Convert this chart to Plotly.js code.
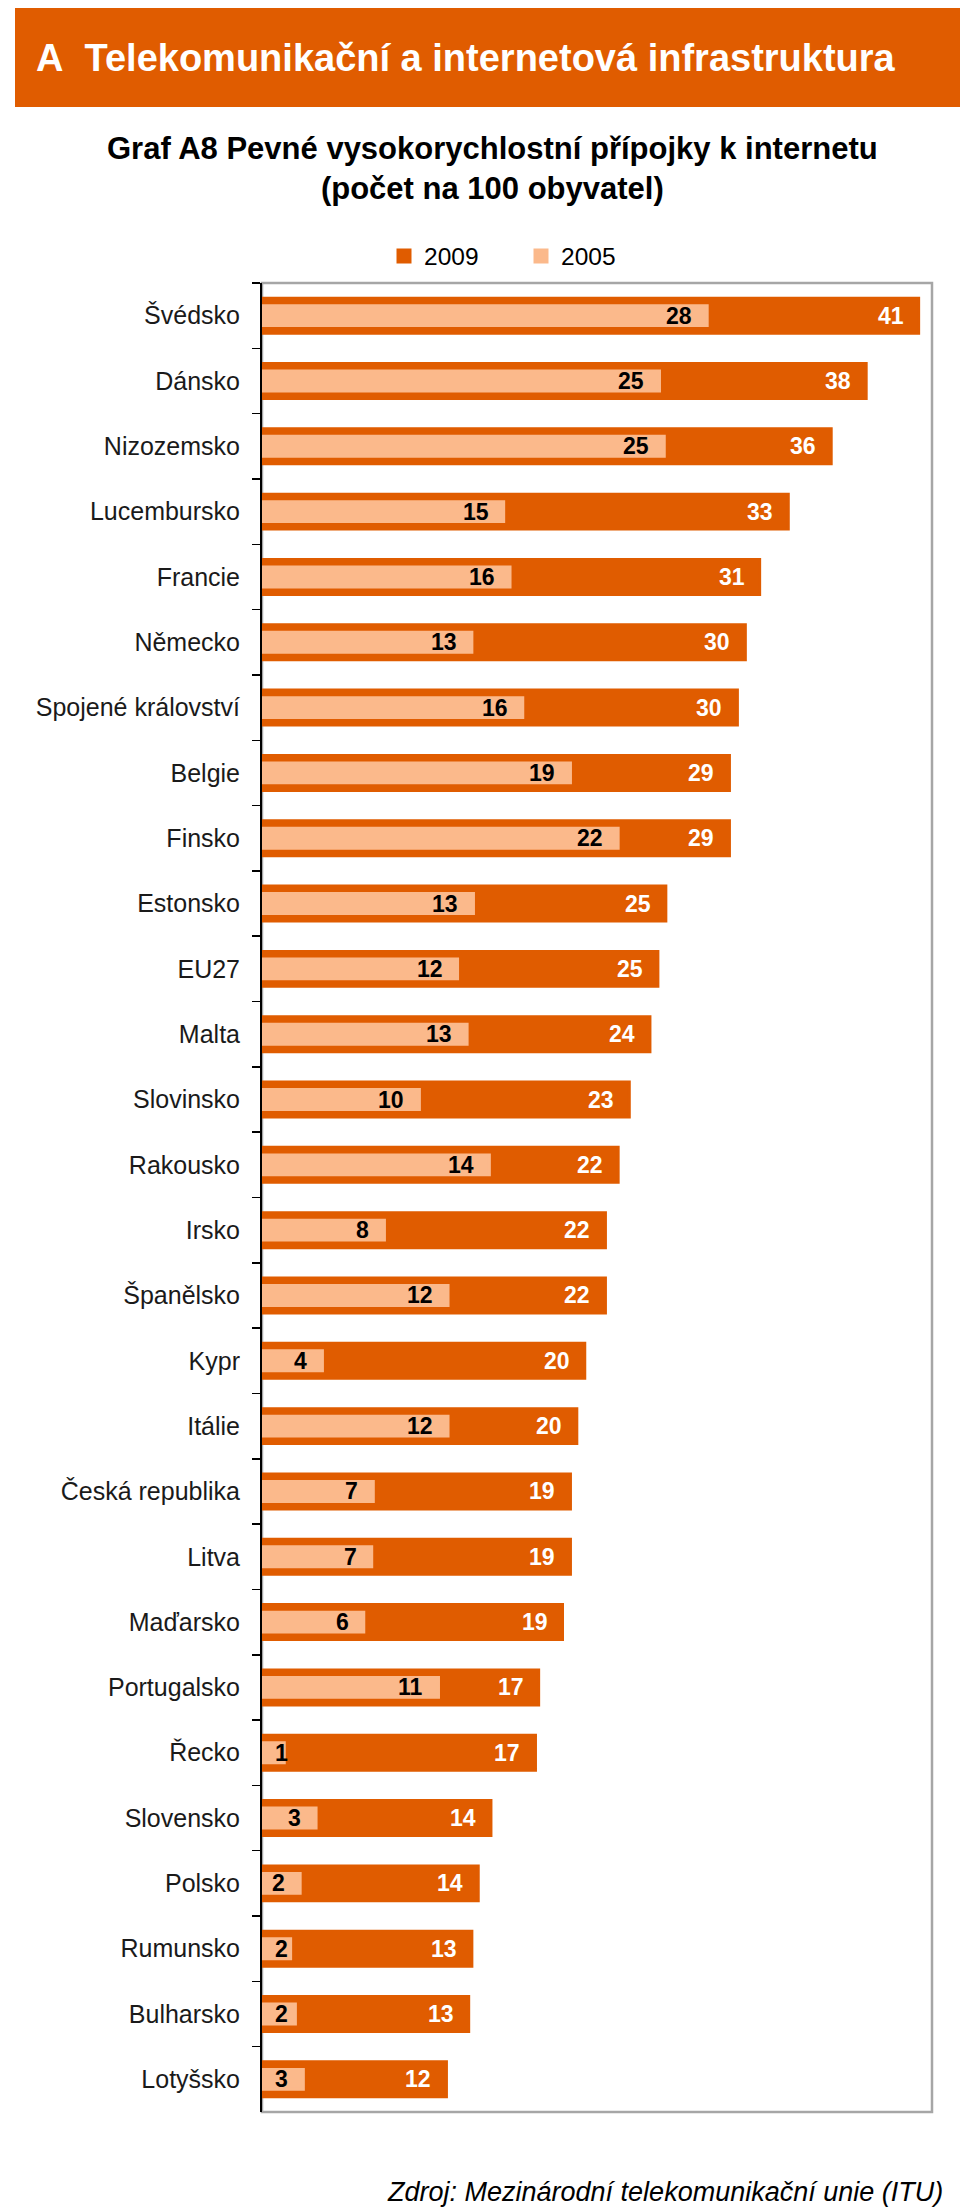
<!DOCTYPE html>
<html>
<head>
<meta charset="utf-8">
<script src="https://cdn.plot.ly/plotly-3.0.1.min.js"></script>
<style>
  html, body { margin: 0; padding: 0; background: #fff; }
  #graf { width: 960px; height: 2212px; }
</style>
</head>
<body>
<div id="graf"></div>
<script>
// země odshora dolů
const zeme = ['Švédsko', 'Dánsko', 'Nizozemsko', 'Lucembursko', 'Francie', 'Německo',
  'Spojené království', 'Belgie', 'Finsko', 'Estonsko', 'EU27', 'Malta', 'Slovinsko',
  'Rakousko', 'Irsko', 'Španělsko', 'Kypr', 'Itálie', 'Česká republika', 'Litva',
  'Maďarsko', 'Portugalsko', 'Řecko', 'Slovensko', 'Polsko', 'Rumunsko', 'Bulharsko', 'Lotyšsko'];

// počet přípojek na 100 obyvatel
const rok2009 = [41.3, 38.0, 35.8, 33.1, 31.3, 30.4, 29.9, 29.4, 29.4, 25.4, 24.9, 24.4, 23.1,
  22.4, 21.6, 21.6, 20.3, 19.8, 19.4, 19.4, 18.9, 17.4, 17.2, 14.4, 13.6, 13.2, 13.0, 11.6];
const rok2005 = [28.0, 25.0, 25.3, 15.2, 15.6, 13.2, 16.4, 19.4, 22.4, 13.3, 12.3, 12.9, 9.9,
  14.3, 7.7, 11.7, 3.8, 11.7, 7.0, 6.9, 6.4, 11.1, 1.4, 3.4, 2.4, 1.8, 2.1, 2.6];

const nazvyRad = ['2009', '2005'];

// rozměry stránky a plochy grafu (px)
const W = 960, H = 2212;
const M = { l: 262, r: 28, t: 283, b: 100 };
const plotW = W - M.l - M.r;
const plotH = H - M.t - M.b;
const xMax = 42.14;

// převody px -> paper
const px2x = px => (px - M.l) / plotW;
const py2y = py => (H - M.b - py) / plotH;

const oranzova = '#e05c00';
const svetla = '#fbb98b';
const pismo = 'Liberation Sans, Arial, sans-serif';
const velikostPopisku = 23;
const okraj = 3; // obrys sloupce, zvětší i značku v legendě

// popisky hodnot (uvnitř na konci sloupce)
function popisky(hodnoty, barva) {
    const k = plotW / xMax;
    return hodnoty.map((v, i) => {
        const txt = String(Math.round(v));
        const sirka = txt.length * 0.556 * velikostPopisku;
        const vlevo = v * k - 13 - sirka < 11;
        return {
            x: vlevo ? 0 : v,
            y: zeme[i],
            xref: 'x', yref: 'y',
            text: txt,
            showarrow: false,
            xanchor: vlevo ? 'left' : 'right',
            xshift: vlevo ? 11 : -13,
            yanchor: 'middle',
            font: { family: pismo, size: velikostPopisku, color: barva, weight: 'bold' }
        };
    });
}

var trace2009 = {
    type: 'bar',
    orientation: 'h',
    name: nazvyRad[0],
    y: zeme,
    x: rok2009,
    width: 0.535,
    marker: { color: oranzova, line: { color: oranzova, width: okraj } },
    hoverinfo: 'skip'
};

var trace2005 = {
    type: 'bar',
    orientation: 'h',
    name: nazvyRad[1],
    y: zeme,
    x: rok2005,
    width: 0.305,
    marker: { color: svetla, line: { color: svetla, width: okraj } },
    hoverinfo: 'skip'
};

var anotace = []
    .concat(popisky(rok2009, '#ffffff'))
    .concat(popisky(rok2005, '#000000'));

// nadpis v oranžovém pruhu
anotace.push({
    xref: 'paper', yref: 'paper',
    x: px2x(34), y: py2y(58),
    xanchor: 'left', yanchor: 'middle',
    text: 'A\u00a0\u00a0Telekomunikační a internetová infrastruktura',
    showarrow: false,
    font: { family: pismo, size: 38, color: '#ffffff', weight: 'bold' }
});

// titulek grafu
anotace.push({
    xref: 'paper', yref: 'paper',
    x: px2x(492), y: py2y(168),
    xanchor: 'center', yanchor: 'middle',
    text: 'Graf A8 Pevné vysokorychlostní přípojky k internetu<br>(počet na 100 obyvatel)',
    showarrow: false,
    font: { family: pismo, size: 31, color: '#000000', weight: 'bold' }
});

// zdroj
anotace.push({
    xref: 'paper', yref: 'paper',
    x: px2x(945), y: py2y(2192),
    xanchor: 'right', yanchor: 'middle',
    text: 'Zdroj: Mezinárodní telekomunikační unie (ITU)',
    showarrow: false,
    font: { family: pismo, size: 27, color: '#000000', style: 'italic' }
});

var layout = {
    width: W,
    height: H,
    margin: M,
    paper_bgcolor: '#ffffff',
    plot_bgcolor: '#ffffff',
    barmode: 'overlay',
    showlegend: true,
    legend: {
        orientation: 'h',
        x: px2x(384), y: py2y(256),
        xanchor: 'left', yanchor: 'middle',
        entrywidth: 92,
        font: { family: pismo, size: 24.5, color: '#000000' },
        traceorder: 'normal'
    },
    xaxis: {
        range: [0, xMax],
        showgrid: false,
        zeroline: false,
        showticklabels: false,
        ticks: '',
        fixedrange: true
    },
    yaxis: {
        type: 'category',
        range: [zeme.length - 0.5, -0.5],
        showgrid: false,
        zeroline: false,
        showline: true,
        linecolor: '#000000',
        linewidth: 2,
        ticks: 'outside',
        tickson: 'boundaries',
        ticklen: 8,
        tickwidth: 1.5,
        tickcolor: '#000000',
        ticklabelstandoff: 15,
        tickfont: { family: pismo, size: 25, color: '#1a1a1a' },
        fixedrange: true
    },
    shapes: [
        {
            type: 'rect', xref: 'paper', yref: 'paper',
            x0: px2x(15), x1: px2x(962), y0: py2y(107), y1: py2y(8),
            fillcolor: oranzova, line: { width: 0 }, layer: 'below'
        },
        {
            type: 'rect', xref: 'paper', yref: 'paper',
            x0: 0, x1: 1, y0: 0, y1: 1,
            line: { color: '#a6a6a6', width: 2.5 }, layer: 'below'
        }
    ],
    annotations: anotace
};

Plotly.newPlot('graf', [trace2009, trace2005], layout, { displayModeBar: false, staticPlot: true });
</script>
</body>
</html>
